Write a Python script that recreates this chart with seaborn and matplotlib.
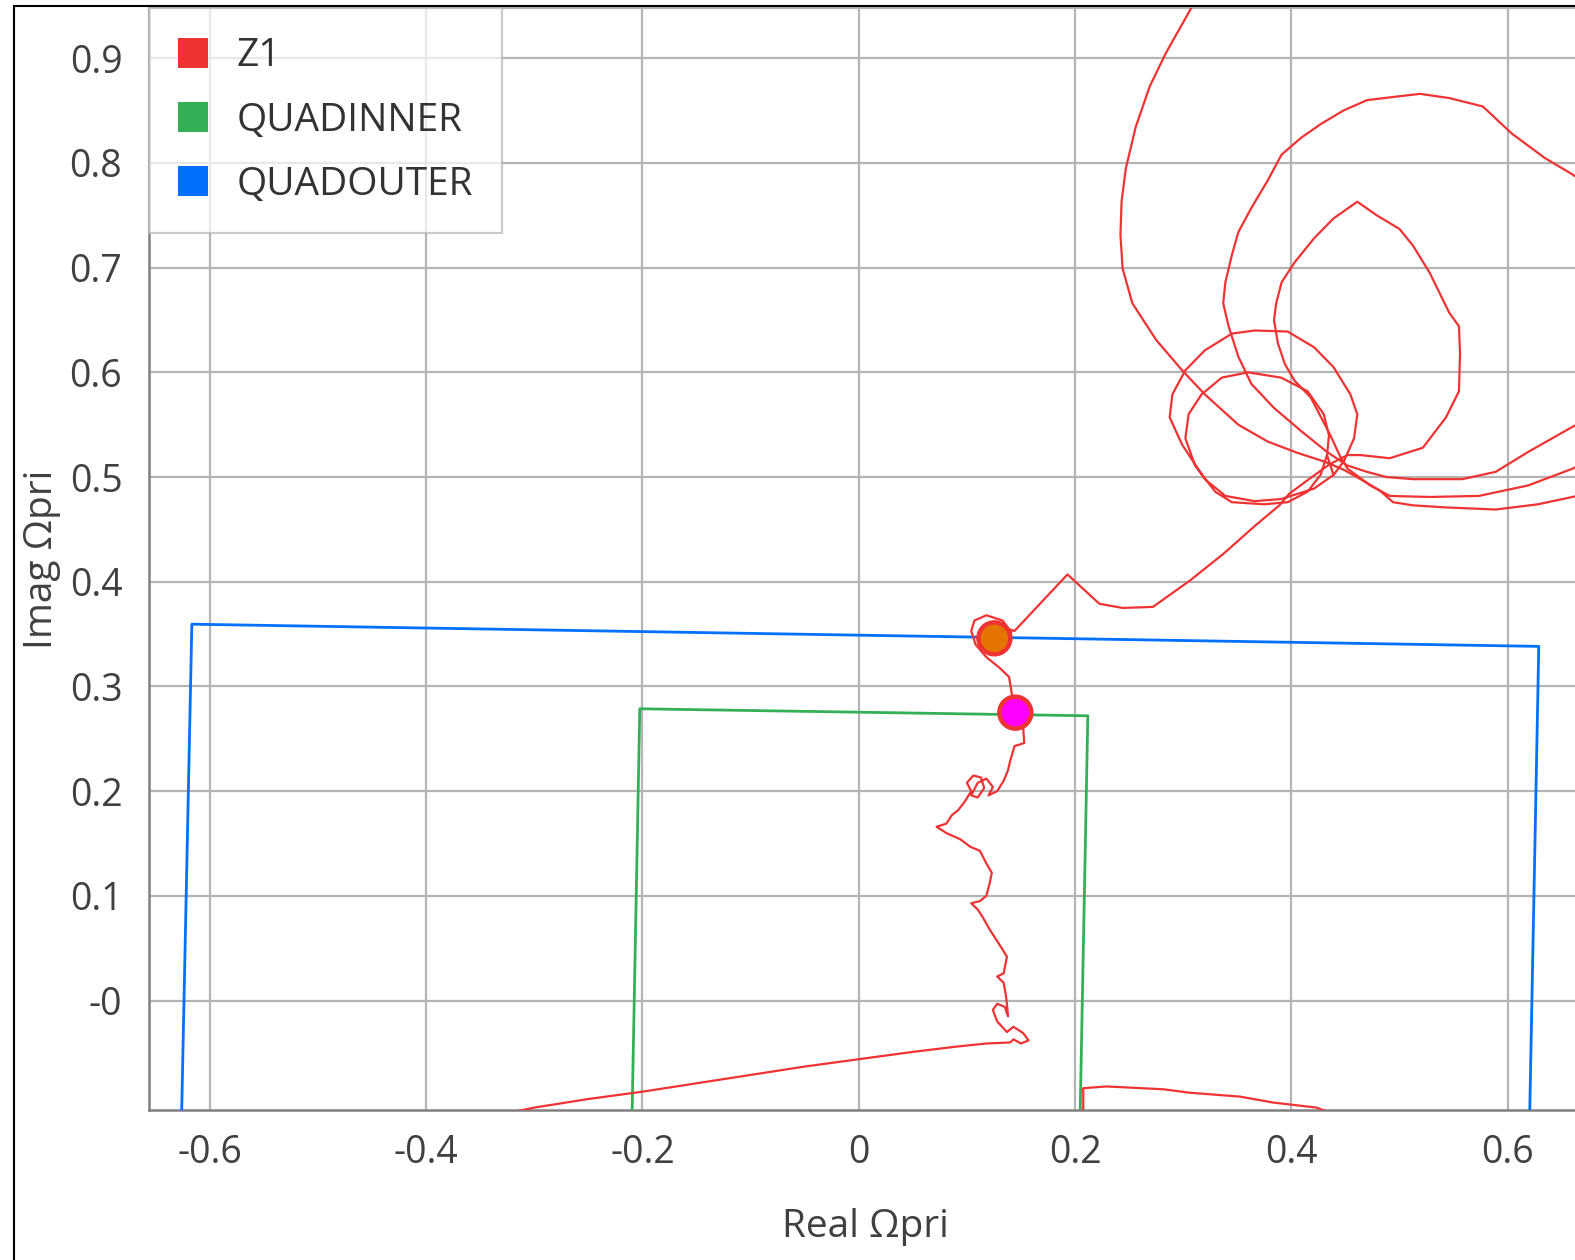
import numpy as np
import pandas as pd
import matplotlib
matplotlib.use("Agg")
import matplotlib.pyplot as plt
import seaborn as sns
from matplotlib.lines import Line2D
from matplotlib.patches import Rectangle

# ---------------- data (Real / Imag of Ωpri) ----------------
series_names = ["Z1", "QUADINNER", "QUADOUTER"]
series_colors = ["#ef3333", "#33b055", "#0070ff"]

quadouter_re = [-0.628, -0.6167, 0.6288, 0.6187]
quadouter_im = [-0.2, 0.3595, 0.3383, -0.2]

quadinner_re = [-0.2113, -0.2025, 0.2118, 0.2030]
quadinner_im = [-0.2, 0.2787, 0.2720, -0.2]

# Z1 trajectory, read in pieces (pieces leave and re-enter the visible window)
z1_piece_a = [(-0.36, -0.115), (-0.299, -0.102), (-0.25, -0.094), (-0.2, -0.087), (-0.15, -0.079),
              (-0.1, -0.071), (-0.05, -0.063), (0.0, -0.056), (0.05, -0.049), (0.09, -0.044),
              (0.118, -0.041), (0.140, -0.040), (0.143, -0.037), (0.150, -0.041), (0.157, -0.038),
              (0.152, -0.031), (0.143, -0.025), (0.137, -0.030), (0.128, -0.020), (0.124, -0.009),
              (0.128, -0.003), (0.135, -0.006), (0.138, -0.015), (0.137, -0.003), (0.136, 0.005),
              (0.134, 0.017), (0.128, 0.023), (0.134, 0.026), (0.137, 0.042), (0.131, 0.052),
              (0.121, 0.068), (0.115, 0.079), (0.110, 0.087), (0.104, 0.093), (0.112, 0.095),
              (0.118, 0.100), (0.121, 0.112), (0.123, 0.122), (0.118, 0.131), (0.112, 0.143),
              (0.103, 0.147), (0.094, 0.154), (0.081, 0.160), (0.072, 0.166), (0.081, 0.169),
              (0.086, 0.177), (0.092, 0.182), (0.098, 0.190), (0.104, 0.200), (0.100, 0.208),
              (0.106, 0.215), (0.113, 0.213), (0.116, 0.203), (0.110, 0.194), (0.104, 0.196),
              (0.110, 0.208), (0.118, 0.212), (0.124, 0.204), (0.120, 0.196), (0.128, 0.200),
              (0.134, 0.210), (0.138, 0.220), (0.140, 0.229), (0.144, 0.243), (0.153, 0.246),
              (0.152, 0.261), (0.146, 0.270), (0.142, 0.290), (0.139, 0.309), (0.130, 0.318),
              (0.118, 0.328), (0.108, 0.340), (0.104, 0.353), (0.107, 0.363), (0.118, 0.368),
              (0.133, 0.363), (0.141, 0.352), (0.136, 0.337), (0.122, 0.332), (0.112, 0.340),
              (0.111, 0.352), (0.120, 0.360), (0.135, 0.356), (0.144, 0.353), (0.193, 0.407),
              (0.2225, 0.379), (0.244, 0.375), (0.272, 0.376), (0.306, 0.401), (0.337, 0.4265),
              (0.367, 0.454), (0.389, 0.473), (0.398, 0.484), (0.415, 0.497), (0.435, 0.512),
              (0.452, 0.521), (0.464, 0.521), (0.491, 0.518), (0.5216, 0.528), (0.543, 0.557),
              (0.555, 0.582), (0.556, 0.618), (0.555, 0.644), (0.546, 0.657), (0.537, 0.676),
              (0.528, 0.695), (0.5125, 0.721), (0.500, 0.737), (0.479, 0.750), (0.461, 0.763),
              (0.439, 0.747), (0.421, 0.728), (0.403, 0.705), (0.391, 0.686), (0.386, 0.666),
              (0.384, 0.650), (0.3875, 0.628), (0.394, 0.608), (0.403, 0.592), (0.418, 0.576),
              (0.426, 0.560), (0.436, 0.540), (0.445, 0.520), (0.452, 0.508), (0.473, 0.492),
              (0.491, 0.482), (0.528, 0.481), (0.5735, 0.482), (0.619, 0.492), (0.660, 0.508),
              (0.70, 0.53)]

z1_piece_b = [(0.439, 0.502), (0.4485, 0.515), (0.458, 0.537), (0.461, 0.560), (0.4546, 0.579),
              (0.439, 0.605), (0.421, 0.624), (0.3966, 0.639), (0.366, 0.640), (0.345, 0.637),
              (0.320, 0.621), (0.302, 0.602), (0.290, 0.579), (0.2875, 0.557), (0.299, 0.531),
              (0.320, 0.498), (0.339, 0.482), (0.366, 0.477), (0.3905, 0.479), (0.421, 0.489),
              (0.439, 0.502), (0.433, 0.521), (0.4348, 0.540), (0.430, 0.560), (0.415, 0.582),
              (0.3905, 0.595), (0.360, 0.600), (0.3357, 0.595), (0.317, 0.579), (0.305, 0.560),
              (0.302, 0.537), (0.311, 0.511), (0.3296, 0.486), (0.345, 0.476), (0.375, 0.474),
              (0.3966, 0.476), (0.415, 0.486), (0.427, 0.502), (0.433, 0.521)]

z1_piece_c = [(0.318, 0.98), (0.308, 0.949), (0.284, 0.905), (0.269, 0.873), (0.256, 0.834),
              (0.247, 0.795), (0.243, 0.763), (0.242, 0.731), (0.244, 0.699), (0.253, 0.666),
              (0.275, 0.631), (0.299, 0.602), (0.320, 0.579), (0.351, 0.550), (0.378, 0.534),
              (0.406, 0.523), (0.430, 0.515), (0.4485, 0.507), (0.464, 0.498), (0.482, 0.487),
              (0.494, 0.476), (0.5125, 0.473), (0.543, 0.471), (0.589, 0.469), (0.628, 0.474),
              (0.660, 0.481), (0.70, 0.49)]

z1_piece_d = [(0.70, 0.76), (0.660, 0.789), (0.634, 0.805), (0.604, 0.828), (0.577, 0.854),
              (0.546, 0.862), (0.519, 0.866), (0.494, 0.863), (0.470, 0.860), (0.448, 0.850),
              (0.427, 0.837), (0.409, 0.824), (0.391, 0.808), (0.378, 0.783), (0.363, 0.757),
              (0.351, 0.734), (0.345, 0.712), (0.339, 0.686), (0.337, 0.666), (0.342, 0.644),
              (0.351, 0.615), (0.363, 0.589), (0.384, 0.566), (0.409, 0.544), (0.433, 0.524),
              (0.452, 0.511), (0.470, 0.505), (0.488, 0.500), (0.5125, 0.498), (0.558, 0.498),
              (0.589, 0.505), (0.619, 0.524), (0.660, 0.548), (0.70, 0.57)]

z1_piece_e = [(0.2076, -0.14), (0.2076, -0.0837), (0.229, -0.082), (0.2816, -0.0847), (0.306, -0.088),
              (0.3525, -0.0917), (0.3833, -0.0974), (0.4234, -0.1022), (0.429, -0.1045), (0.48, -0.12)]

marker_re = [0.1254, 0.1448]
marker_im = [0.346, 0.275]
marker_colors = ["#e57300", "#ff00ff"]

x_ticks = [-0.6, -0.4, -0.2, 0.0, 0.2, 0.4, 0.6]
x_ticklabels = ["-0.6", "-0.4", "-0.2", "0", "0.2", "0.4", "0.6"]
y_ticks = [0.0, 0.1, 0.2, 0.3, 0.4, 0.5, 0.6, 0.7, 0.8, 0.9]
y_ticklabels = ["-0", "0.1", "0.2", "0.3", "0.4", "0.5", "0.6", "0.7", "0.8", "0.9"]

# ---------------- build tables ----------------
z1_rows = []
for uid, piece in enumerate([z1_piece_a, z1_piece_b, z1_piece_c, z1_piece_d, z1_piece_e]):
    for order, (re, im) in enumerate(piece):
        z1_rows.append({"re": re, "im": im, "piece": uid, "order": order})
z1_df = pd.DataFrame(z1_rows)
outer_df = pd.DataFrame({"re": quadouter_re, "im": quadouter_im})
inner_df = pd.DataFrame({"re": quadinner_re, "im": quadinner_im})
mark_df = pd.DataFrame({"re": marker_re, "im": marker_im, "kind": ["a", "b"]})

# ---------------- style ----------------
sns.set_theme(style="white")
plt.rcParams["font.family"] = ["Open Sans", "DejaVu Sans"]
text_color = "#404040"
grid_color = "#b4b4b4"
FS_TICK = 27
FS_LAB = 28

fig = plt.figure(figsize=(15.75, 12.6), dpi=100)
ax_left = 148.7 / 1575
ax_right = 1583 / 1575
ax_bottom = (1260 - 1110) / 1260
ax_top = (1260 - 8) / 1260
ax = fig.add_axes([ax_left, ax_bottom, ax_right - ax_left, ax_top - ax_bottom])

sns.lineplot(data=outer_df, x="re", y="im", sort=False, estimator=None, color=series_colors[2],
             linewidth=2.0, ax=ax, legend=False, zorder=3)
sns.lineplot(data=inner_df, x="re", y="im", sort=False, estimator=None, color=series_colors[1],
             linewidth=2.0, ax=ax, legend=False, zorder=3)
sns.lineplot(data=z1_df, x="re", y="im", units="piece", sort=False, estimator=None,
             color=series_colors[0], linewidth=1.6, ax=ax, legend=False, zorder=4)
sns.scatterplot(data=mark_df, x="re", y="im", hue="kind", palette=marker_colors, s=23 ** 2,
                edgecolor=series_colors[0], linewidth=3.2, ax=ax, legend=False, zorder=5)

ax.set_xlim(-0.6566, 0.6697)
ax.set_ylim(-0.1045, 0.948)
ax.set_xticks(x_ticks)
ax.set_xticklabels(x_ticklabels)
ax.set_yticks(y_ticks)
ax.set_yticklabels(y_ticklabels)
ax.grid(True, color=grid_color, linewidth=1.6)
ax.set_axisbelow(True)
ax.tick_params(axis="both", length=0, labelsize=FS_TICK, labelcolor=text_color)
ax.tick_params(axis="x", pad=17)
ax.tick_params(axis="y", pad=19)
for side in ["left", "bottom"]:
    ax.spines[side].set_color("#808080")
    ax.spines[side].set_linewidth(1.8)
ax.spines["top"].set_color(grid_color)
ax.spines["top"].set_linewidth(1.6)
ax.spines["right"].set_visible(False)

ax.set_xlabel("Real Ωpri", fontsize=FS_LAB, color=text_color, labelpad=26)
ax.set_ylabel("Imag Ωpri", fontsize=FS_LAB, color=text_color, labelpad=6)

handles = [Line2D([], [], marker="s", linestyle="none", markersize=22, markerfacecolor=c,
                  markeredgewidth=0) for c in series_colors]
leg = ax.legend(handles, series_names, loc="upper left", bbox_to_anchor=(0, 1), borderaxespad=0,
                frameon=True, fancybox=False, framealpha=0.7, edgecolor=grid_color, fontsize=FS_LAB,
                handlelength=0.78, handletextpad=0.72, borderpad=0.75, labelspacing=0.68)
leg.get_frame().set_linewidth(1.6)
for t in leg.get_texts():
    t.set_color("#333333")
leg.set_zorder(10)

# outer frame of the picture (cropped on right / bottom)
fig.add_artist(Rectangle((13.5 / 1575, -0.5), 2.0, 0.5 + (1260 - 5.5) / 1260,
                         transform=fig.transFigure, fill=False, edgecolor="black", linewidth=1.5))

fig.savefig("out.png", dpi=100)
